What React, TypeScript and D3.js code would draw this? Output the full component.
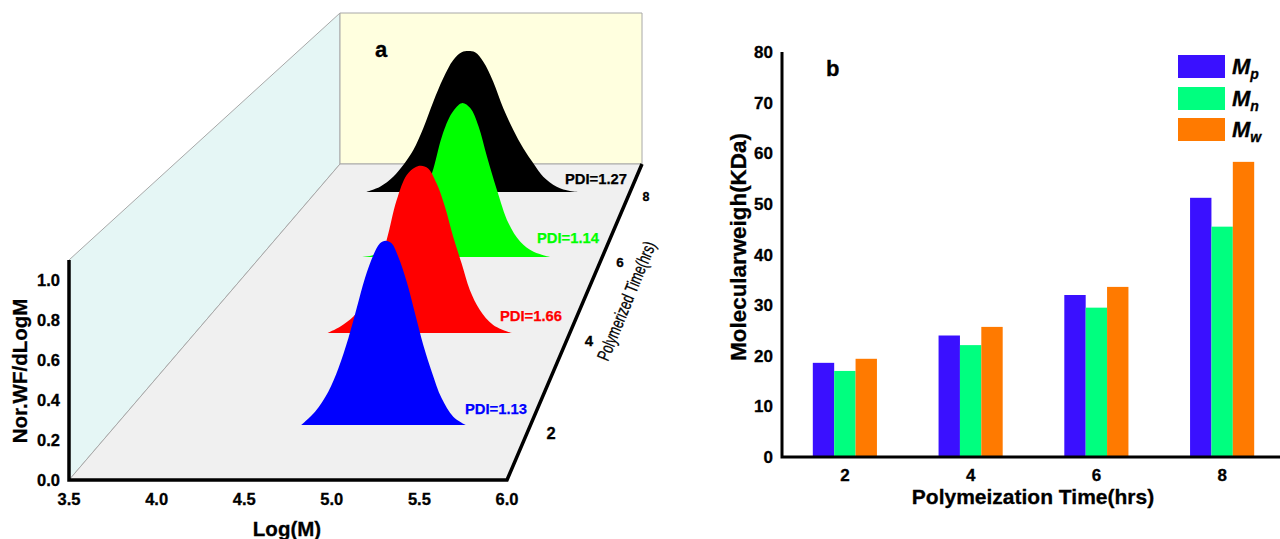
import { area, curveCatmullRom, scaleBand, scaleLinear } from "d3";

const FONT = "'Liberation Sans', Arial, sans-serif";

// panel a
const logMTicks = [3.5, 4.0, 4.5, 5.0, 5.5, 6.0];
const wfTicks = [0, 0.2, 0.4, 0.6, 0.8, 1.0];
const timeTicks = [2, 4, 6, 8];

const blueLogM = [4.616, 4.7, 4.78, 4.841, 4.901, 4.951, 5.001, 5.052, 5.092, 5.126, 5.162, 5.202, 5.253, 5.303, 5.353, 5.404, 5.464, 5.534, 5.609];
const blueWf = [0, 0.07, 0.176, 0.3, 0.459, 0.617, 0.776, 0.899, 0.961, 0.975, 0.961, 0.89, 0.758, 0.591, 0.423, 0.282, 0.141, 0.044, 0];

const redLogM = [4.382, 4.467, 4.555, 4.622, 4.7, 4.778, 4.845, 4.911, 4.967, 5.007, 5.055, 5.111, 5.167, 5.222, 5.278, 5.333, 5.4, 5.489, 5.611];
const redWf = [0, 0.037, 0.095, 0.174, 0.329, 0.544, 0.778, 0.924, 0.969, 0.979, 0.963, 0.876, 0.739, 0.563, 0.408, 0.252, 0.135, 0.047, 0];

const greenLogM = [4.236, 4.328, 4.426, 4.548, 4.67, 4.755, 4.828, 4.901, 4.974, 5.035, 5.096, 5.157, 5.23, 5.315, 5.401, 5.498, 5.62];
const greenWf = [0, 0.013, 0.066, 0.195, 0.367, 0.538, 0.774, 0.924, 0.988, 0.956, 0.838, 0.645, 0.431, 0.217, 0.098, 0.034, 0];

const blackLogM = [3.898, 4.01, 4.115, 4.195, 4.275, 4.354, 4.434, 4.513, 4.593, 4.66, 4.712, 4.766, 4.832, 4.911, 4.991, 5.071, 5.15, 5.23, 5.309, 5.416, 5.522, 5.602];
const blackWf = [0, 0.037, 0.107, 0.189, 0.294, 0.446, 0.632, 0.796, 0.924, 0.978, 0.987, 0.978, 0.912, 0.772, 0.586, 0.434, 0.306, 0.201, 0.107, 0.037, 0.007, 0];

// back to front
const ridges = [
  { time: 8, pdi: "PDI=1.27", color: "#000000", logM: blackLogM, wf: blackWf, lx: 596, ly: 179 },
  { time: 6, pdi: "PDI=1.14", color: "#00ff00", logM: greenLogM, wf: greenWf, lx: 568, ly: 238 },
  { time: 4, pdi: "PDI=1.66", color: "#ff0000", logM: redLogM, wf: redWf, lx: 531, ly: 316 },
  { time: 2, pdi: "PDI=1.13", color: "#0000ff", logM: blueLogM, wf: blueWf, lx: 496, ly: 409 },
];

// panel b
const hours = ["2", "4", "6", "8"];
const seriesNames = ["Mp", "Mn", "Mw"];
const seriesColors = ["#3a10ff", "#00ff7f", "#ff7a00"];
const mpValues = [18.6, 24.0, 32.0, 51.2];
const mnValues = [17.0, 22.1, 29.5, 45.5];
const mwValues = [19.4, 25.7, 33.6, 58.3];
const seriesValues = [mpValues, mnValues, mwValues];
const molTicks = [0, 10, 20, 30, 40, 50, 60, 70, 80];

// floor of the 3d box, corners
const frontY = 480;
const backY = 164;
const frontL = 69;
const frontR = 507;
const backL = 340;
const backR = 642;
const wallTopFront = 260;
const wallTopBack = 13;

const leftAt = scaleLinear().domain([frontY, backY]).range([frontL, backL]);
const rightAt = scaleLinear().domain([frontY, backY]).range([frontR, backR]);
const wallAt = scaleLinear().domain([frontY, backY]).range([frontY - wallTopFront, backY - wallTopBack]);
const baseY = scaleLinear().domain(timeTicks).range([425, 333, 257, 192]);
const wfFront = scaleLinear().domain([0, 1.1]).range([frontY, wallTopFront]);
const logMFront = scaleLinear().domain([3.5, 6]).range([frontL, frontR]);

const ridgePath = (r: (typeof ridges)[number]) => {
  const y0 = baseY(r.time);
  const x = scaleLinear().domain([3.5, 6]).range([leftAt(y0), rightAt(y0)]);
  const y = scaleLinear().domain([0, 1.1]).range([y0, y0 - wallAt(y0)]);
  const pts = r.logM.map((m, i) => ({ m, v: r.wf[i] }));
  return area<{ m: number; v: number }>()
    .curve(curveCatmullRom)
    .x((d) => x(d.m))
    .y0(y0)
    .y1((d) => y(d.v))(pts)!;
};

const timeLabelX = scaleLinear().domain(timeTicks).range([551, 589, 620, 646]);
const timeLabelY = scaleLinear().domain(timeTicks).range([433, 340, 262, 197]);
const timeLabelSize = scaleLinear().domain(timeTicks).range([16.5, 15, 13.5, 12.5]);

const xBand = scaleBand<string>().domain(hours).range([782, 1285]).paddingInner(0.49).paddingOuter(0.245);
const xSub = scaleBand<string>().domain(seriesNames).range([0, xBand.bandwidth()]);
const yMol = scaleLinear().domain([0, 80]).range([457, 52]);

const legendY = [55, 87, 118];

export default function App() {
  return (
    <svg
      width={1280}
      height={539}
      viewBox="0 0 1280 539"
      style={{ position: "absolute", left: 0, top: 0, display: "block" }}
      fontFamily={FONT}
      fontWeight="bold"
      fill="#000"
    >
      {/* panel a walls and floor */}
      <polygon
        points={`${frontL},${frontY} ${frontL},${wallTopFront} ${backL},${wallTopBack} ${backL},${backY}`}
        fill="#e5f6f5"
        stroke="#a8a8a8"
      />
      <polygon
        points={`${backL},${wallTopBack} ${backR},${wallTopBack} ${backR},${backY} ${backL},${backY}`}
        fill="#ffffdf"
        stroke="#a8a8a8"
      />
      <polygon
        points={`${frontL},${frontY} ${frontR},${frontY} ${backR},${backY} ${backL},${backY}`}
        fill="#f0f0f0"
        stroke="#a8a8a8"
      />

      {ridges.map((r) => (
        <path key={r.time} d={ridgePath(r)} fill={r.color} />
      ))}

      <polyline
        points={`${frontL},${wallTopFront} ${frontL},${frontY} ${frontR},${frontY} ${backR},${backY}`}
        fill="none"
        stroke="#000"
        strokeWidth={3.5}
      />

      {ridges.map((r) => (
        <text
          key={r.pdi}
          x={r.lx}
          y={r.ly}
          fill={r.color}
          stroke={r.color}
          strokeWidth={0.25}
          fontSize={14.8}
          textAnchor="middle"
          dominantBaseline="central"
        >
          {r.pdi}
        </text>
      ))}

      <g stroke="#000" strokeWidth={0.3}>
        {logMTicks.map((t) => (
          <text key={t} x={logMFront(t)} y={505} fontSize={16.5} textAnchor="middle">
            {t.toFixed(1)}
          </text>
        ))}
        {wfTicks.map((t) => (
          <text key={t} x={60} y={wfFront(t) + 6} fontSize={16.5} textAnchor="end">
            {t.toFixed(1)}
          </text>
        ))}
        {timeTicks.map((t) => (
          <text
            key={t}
            x={timeLabelX(t)}
            y={timeLabelY(t)}
            fontSize={timeLabelSize(t)}
            textAnchor="middle"
            dominantBaseline="central"
          >
            {t}
          </text>
        ))}

        <text x={287} y={536} fontSize={20.5} textAnchor="middle">
          Log(M)
        </text>
        <text transform="translate(27,371) rotate(-90)" fontSize={20.5} textAnchor="middle">
          Nor.WF/dLogM
        </text>
        <text
          transform="translate(608,362) rotate(-67.7)"
          fontSize={18}
          fontWeight="normal"
          textLength={127}
          lengthAdjust="spacingAndGlyphs"
        >
          Polymerized Time(hrs)
        </text>
        <text x={375} y={57} fontSize={22}>
          a
        </text>
      </g>

      {/* panel b */}
      {seriesNames.map((s, si) =>
        hours.map((h, i) => (
          <rect
            key={s + h}
            x={xBand(h)! + xSub(s)!}
            y={yMol(seriesValues[si][i])}
            width={xSub.bandwidth()}
            height={yMol(0) - yMol(seriesValues[si][i])}
            fill={seriesColors[si]}
          />
        )),
      )}
      <path d={`M782,${yMol(80)}V${yMol(0)}H1280`} fill="none" stroke="#000" strokeWidth={3} />

      <g stroke="#000" strokeWidth={0.3}>
        {molTicks.map((t) => (
          <text key={t} x={773} y={yMol(t) + 6} fontSize={17} textAnchor="end">
            {t}
          </text>
        ))}
        {hours.map((h) => (
          <text key={h} x={xBand(h)! + xBand.bandwidth() / 2} y={481} fontSize={17} textAnchor="middle">
            {h}
          </text>
        ))}

        <text x={1033} y={504} fontSize={21} textAnchor="middle">
          Polymeization Time(hrs)
        </text>
        <text transform="translate(746,247) rotate(-90)" fontSize={22.4} textAnchor="middle">
          Molecularweigh(KDa)
        </text>
        <text x={826} y={76} fontSize={22}>
          b
        </text>
      </g>

      {seriesNames.map((s, i) => (
        <g key={s}>
          <rect x={1178} y={legendY[i]} width={47} height={23} fill={seriesColors[i]} />
          <text x={1232} y={legendY[i] + 19} fontSize={22} fontStyle="italic" stroke="#000" strokeWidth={0.3}>
            {s[0]}
            <tspan fontSize={14} dy={5}>
              {s[1]}
            </tspan>
          </text>
        </g>
      ))}
    </svg>
  );
}
